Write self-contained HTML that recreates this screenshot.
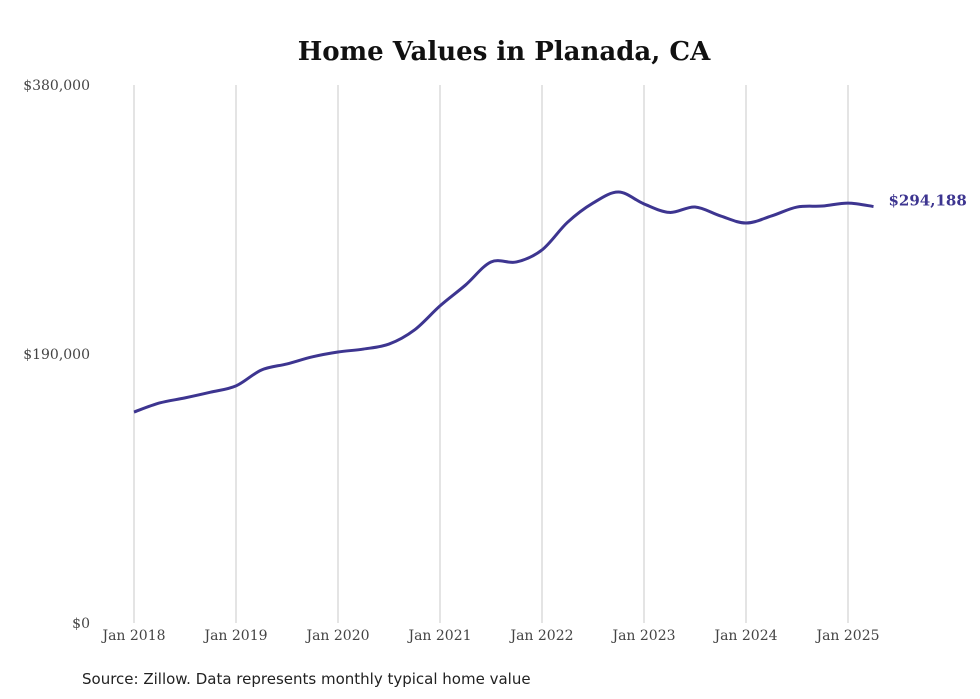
<!DOCTYPE html>
<html><head><meta charset="utf-8"><style>
body{margin:0;background:#fff;}
svg{display:block;}
</style></head><body>
<svg id="chart" width="980" height="699" xmlns="http://www.w3.org/2000/svg">
<text x="504" y="60" text-anchor="middle" font-family="DejaVu Serif, serif" font-weight="bold" font-size="26" fill="#111">Home Values in Planada, CA</text>
<g id="grid"></g><g id="yaxis"></g><g id="xaxis"></g><g id="series"></g>
<text x="82" y="684" font-family="DejaVu Sans, sans-serif" font-size="15" fill="#222">Source: Zillow. Data represents monthly typical home value</text>
</svg>
<script>
const xTickLabels=["Jan 2018","Jan 2019","Jan 2020","Jan 2021","Jan 2022","Jan 2023","Jan 2024","Jan 2025"];
const yTickValues=[0,190000,380000];
const yTickLabels=["$0","$190,000","$380,000"];
// months since Jan 2018
const months=[0,3,6,9,12,15,18,21,24,27,30,33,36,39,42,45,48,51,54,57,60,63,66,69,72,75,78,81,84,87];
const values=[149000,155400,159000,163000,167500,178700,183000,188000,191400,193500,197000,207000,224000,238700,255000,255000,263500,283000,296600,304400,296000,290000,293800,287500,282500,287500,293800,294500,296600,294188];
const endLabel="$294,188";
const NS="http://www.w3.org/2000/svg";
const x=m=>134+m*(714/84);
const y=v=>623-v*(538/380000);
function mk(tag,attrs,parent){const e=document.createElementNS(NS,tag);for(const k in attrs)e.setAttribute(k,attrs[k]);parent.appendChild(e);return e;}
const grid=document.getElementById('grid'),xa=document.getElementById('xaxis'),ya=document.getElementById('yaxis'),se=document.getElementById('series');
xTickLabels.forEach((l,i)=>{
 const gl=mk('line',{x1:x(i*12),x2:x(i*12),y1:85,y2:623,stroke:'#c8c8c8','stroke-width':1},grid);
 
 
 const t=mk('text',{x:x(i*12),y:640,'text-anchor':'middle','font-family':'DejaVu Serif, serif','font-size':14,fill:'#444'},xa);
 t.textContent=l;
 
 
});
yTickValues.forEach((v,i)=>{
 const t=mk('text',{x:90,y:y(v)+5,'text-anchor':'end','font-family':'DejaVu Serif, serif','font-size':14,fill:'#444'},ya);
 t.textContent=yTickLabels[i];
 
 
});
const P=months.map((m,i)=>[x(m),y(values[i])]);
let d='M'+P[0][0]+','+P[0][1];
for(let i=0;i<P.length-1;i++){
 const p0=P[i-1]||P[i],p1=P[i],p2=P[i+1],p3=P[i+2]||p2;
 const c1=[p1[0]+(p2[0]-p0[0])/6,p1[1]+(p2[1]-p0[1])/6],c2=[p2[0]-(p3[0]-p1[0])/6,p2[1]-(p3[1]-p1[1])/6];
 d+=`C${c1[0]},${c1[1]} ${c2[0]},${c2[1]} ${p2[0]},${p2[1]}`;
}
const line=mk('path',{d:d,fill:'none',stroke:'#3d3590','stroke-width':3,'stroke-linejoin':'round'},se);


const last=P[P.length-1];
const el=mk('text',{x:last[0]+15,y:last[1]-1,'font-family':'DejaVu Serif, serif','font-weight':'bold','font-size':15,fill:'#3d3590'},se);
el.textContent=endLabel;


</script>
</body></html>
